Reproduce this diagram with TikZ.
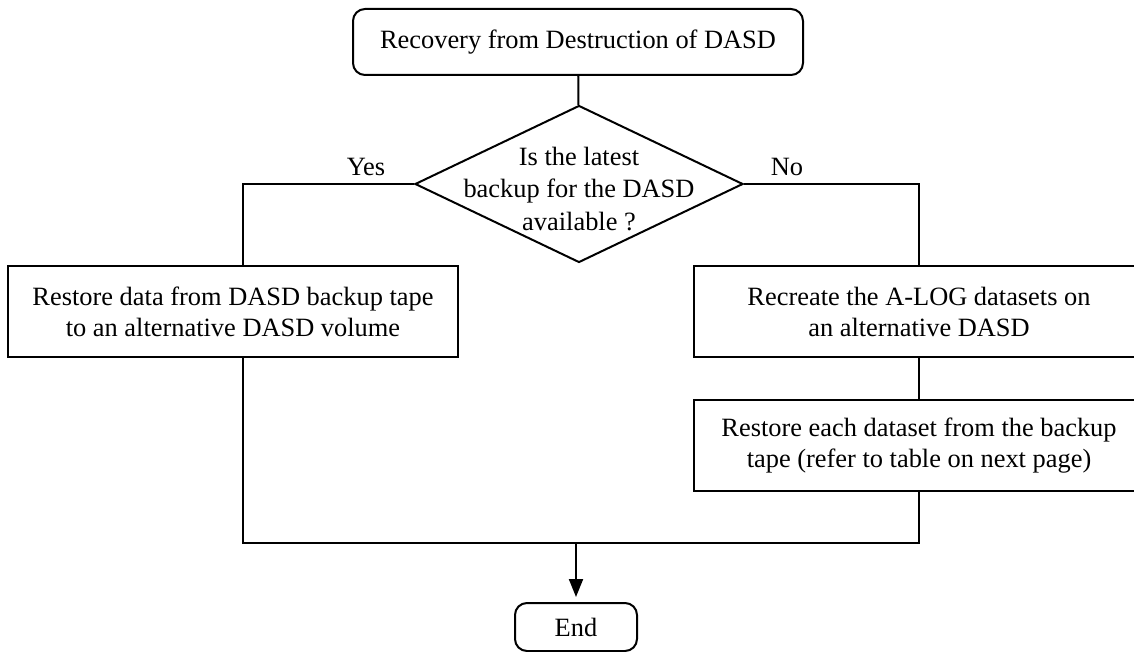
\documentclass[tikz,border=0pt]{standalone}
\usepackage{fontspec}
\setmainfont{Liberation Serif}
\usepackage{tikz}
\usetikzlibrary{positioning, arrows.meta, shapes.geometric}

\begin{document}
\begin{tikzpicture}[x=0.5pt, y=-0.5pt, line width=1pt,
    every node/.style={font=\fontsize{13.2}{15.5}\selectfont},
    startstop/.style={rectangle, rounded corners=6pt, draw, align=center, inner sep=0pt},
    process/.style={rectangle, draw, align=center, minimum width=225pt, minimum height=45.5pt, inner sep=0pt},
    decision/.style={diamond, draw, minimum width=164pt, minimum height=78.5pt, inner sep=0pt}]
    \useasboundingbox (0,0) rectangle (1134,652);
    \clip (0,0) rectangle (1134,652);

    % start and decision
    \node[startstop, minimum width=225pt, minimum height=33pt] (recover) at (578,42) {Recovery from Destruction of DASD};
    \node[decision, label={[align=center, yshift=-2.5pt, font=\fontsize{13.2}{16.2}\selectfont]center:Is the latest\\backup for the DASD\\available ?}] (check) at (579,184) {};

    % yes branch
    \node[process] (restore) at (233,311.5) {Restore data from DASD backup tape\\to an alternative DASD volume};

    % no branch
    \node[process] (recreate) at (919,311.5) {Recreate the A-LOG datasets on\\an alternative DASD};
    \node[process] (reload) at (919,445.5) {Restore each dataset from the backup\\tape (refer to table on next page)};

    \node[startstop, minimum width=61pt, minimum height=24pt] (stop) at (576,627) {End};

    \coordinate (lefttop) at (243,184);
    \coordinate (leftbot) at (243,543);
    \coordinate (rightbot) at (919,543);

    \draw (recover) -- (check);
    \draw (check.west) -- (lefttop) -- (lefttop |- restore.north);
    \draw (check.east) -| (recreate.north);
    \draw (recreate) -- (reload);
    \draw (lefttop |- restore.south) -- (leftbot) -- (rightbot) -- (reload.south);
    \draw[-{Triangle[length=9pt, width=7pt]}, shorten >=2.5pt] (stop.north |- leftbot) -- (stop);

    \node (yes) at (366,167) {Yes};
    \node (no) at (787,167) {No};
\end{tikzpicture}
\end{document}
